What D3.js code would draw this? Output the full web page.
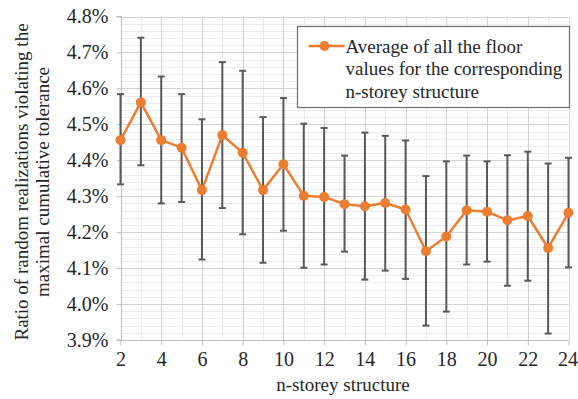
<!doctype html>
<html lang="en">
<head>
  <meta charset="utf-8">
  <title>n-storey structure</title>
  <script src="https://cdn.jsdelivr.net/npm/d3@7"></script>
  <style>
    body { margin: 0; background: #fff; }
    svg { display: block; font-family: "Liberation Serif", "Times New Roman", serif; }
    .grid-minor line { stroke: #ececec; stroke-width: 1px; }
    .grid-major line { stroke: #d4d4d4; stroke-width: 1px; }
    .axis path, .axis line { stroke: #bfbfbf; }
  </style>
</head>
<body>
<div id="chart"></div>
<script>
  // values (percent)
  var storeys = [2, 3, 4, 5, 6, 7, 8, 9, 10, 11, 12, 13, 14, 15, 16, 17, 18, 19, 20, 21, 22, 23, 24];
  var average = [4.456, 4.561, 4.456, 4.435, 4.317, 4.470, 4.421, 4.317, 4.389, 4.301, 4.298, 4.278, 4.272, 4.281, 4.263, 4.147, 4.188, 4.261, 4.257, 4.233, 4.245, 4.156, 4.254];
  var upper = [4.584, 4.741, 4.633, 4.584, 4.514, 4.673, 4.649, 4.520, 4.573, 4.502, 4.490, 4.413, 4.477, 4.468, 4.455, 4.356, 4.397, 4.413, 4.397, 4.414, 4.424, 4.391, 4.407];
  var lower = [4.333, 4.386, 4.280, 4.284, 4.124, 4.267, 4.194, 4.115, 4.204, 4.101, 4.110, 4.146, 4.068, 4.093, 4.070, 3.940, 3.979, 4.110, 4.118, 4.051, 4.065, 3.918, 4.102];
  var yTicks = [3.9, 4.0, 4.1, 4.2, 4.3, 4.4, 4.5, 4.6, 4.7, 4.8];
  var xTicks = [2, 4, 6, 8, 10, 12, 14, 16, 18, 20, 22, 24];
  var legendLines = ["Average of all the floor", "values for the corresponding", "n-storey structure"];

  var data = storeys.map(function(s, i) {
    return {x: s, y: average[i], hi: upper[i], lo: lower[i]};
  });

  var width = 578, height = 399,
      orange = "#ed7d31", barColor = "#595959";

  var svg = d3.select("#chart").append("svg")
      .attr("width", width)
      .attr("height", height);

  var x = d3.scaleLinear().domain([2, 24]).range([120.5, 568.5]);
  var y = d3.scaleLinear().domain([3.9, 4.8]).range([340, 16.5]);

  // minor grid
  var minorY = d3.range(0, 46).map(function(i) { return +(3.9 + i * 0.02).toFixed(2); });
  svg.append("g").attr("class", "grid-minor")
    .selectAll("line").data(minorY).enter().append("line")
      .attr("x1", x(2)).attr("x2", x(24))
      .attr("y1", function(d) { return Math.round(y(d)) + 0.5; })
      .attr("y2", function(d) { return Math.round(y(d)) + 0.5; });
  svg.select(".grid-minor")
    .selectAll("line.v").data(storeys.filter(function(d) { return d % 2; })).enter().append("line")
      .attr("class", "v")
      .attr("y1", y(3.9)).attr("y2", y(4.8))
      .attr("x1", function(d) { return Math.round(x(d)) + 0.5; })
      .attr("x2", function(d) { return Math.round(x(d)) + 0.5; });

  // major grid
  var major = svg.append("g").attr("class", "grid-major");
  major.selectAll("line.h").data(yTicks.slice(1)).enter().append("line")
      .attr("class", "h")
      .attr("x1", x(2)).attr("x2", x(24))
      .attr("y1", function(d) { return Math.round(y(d)) + 0.5; })
      .attr("y2", function(d) { return Math.round(y(d)) + 0.5; });
  major.selectAll("line.v").data(xTicks.slice(1)).enter().append("line")
      .attr("class", "v")
      .attr("y1", y(3.9)).attr("y2", y(4.8))
      .attr("x1", function(d) { return Math.round(x(d)) + 0.5; })
      .attr("x2", function(d) { return Math.round(x(d)) + 0.5; });

  // axes
  var yAxis = svg.append("g").attr("class", "axis")
      .attr("transform", "translate(" + (Math.round(x(2)) + 0.5) + ",0)")
      .call(d3.axisLeft(y).tickValues(yTicks).tickSize(5).tickPadding(8)
        .tickFormat(function(d) { return d.toFixed(1) + "%"; }));
  yAxis.select(".domain").attr("d", "M-5," + y(4.8) + "H0V" + y(3.9) + "H-5");

  var xAxis = svg.append("g").attr("class", "axis")
      .attr("transform", "translate(0," + (Math.round(y(3.9)) + 0.5) + ")")
      .call(d3.axisBottom(x).tickValues(xTicks).tickSize(5).tickPadding(6)
        .tickFormat(d3.format("d")));
  xAxis.select(".domain").attr("d", "M" + x(2) + ",0H" + x(24));
  xAxis.selectAll(".tick text").filter(function(d) { return d === 24; }).attr("dx", -1);

  svg.selectAll(".axis").attr("font-family", null).attr("font-size", null);
  svg.selectAll(".axis .tick text")
      .style("font-family", "Liberation Serif")
      .style("font-size", "20px")
      .attr("fill", "#262626");

  // error bars
  var bars = svg.append("g").attr("stroke", barColor).attr("stroke-width", 2);
  bars.selectAll("line.bar").data(data).enter().append("line")
      .attr("class", "bar")
      .attr("x1", function(d) { return x(d.x); })
      .attr("x2", function(d) { return x(d.x); })
      .attr("y1", function(d) { return y(d.hi); })
      .attr("y2", function(d) { return y(d.lo); });
  ["hi", "lo"].forEach(function(k) {
    bars.selectAll("line.cap-" + k).data(data).enter().append("line")
        .attr("class", "cap-" + k)
        .attr("x1", function(d) { return x(d.x) - 3.5; })
        .attr("x2", function(d) { return x(d.x) + 3.5; })
        .attr("y1", function(d) { return y(d[k]); })
        .attr("y2", function(d) { return y(d[k]); });
  });

  // series
  var line = d3.line()
      .x(function(d) { return x(d.x); })
      .y(function(d) { return y(d.y); });
  svg.append("path").datum(data)
      .attr("d", line)
      .attr("fill", "none")
      .attr("stroke", orange)
      .attr("stroke-width", 2.5)
      .attr("stroke-linejoin", "round");
  svg.append("g").selectAll("circle").data(data).enter().append("circle")
      .attr("cx", function(d) { return x(d.x); })
      .attr("cy", function(d) { return y(d.y); })
      .attr("r", 5)
      .attr("fill", orange);

  // legend
  var legend = svg.append("g").attr("transform", "translate(297.5,26.5)");
  legend.append("rect")
      .attr("width", 272).attr("height", 81)
      .attr("fill", "#fff").attr("stroke", "#6e6e6e").attr("stroke-width", 1.2);
  legend.append("line")
      .attr("x1", 11).attr("x2", 47).attr("y1", 19.5).attr("y2", 19.5)
      .attr("stroke", orange).attr("stroke-width", 2.5);
  legend.append("circle").attr("cx", 27).attr("cy", 19.5).attr("r", 5).attr("fill", orange);
  legend.selectAll("text").data(legendLines).enter().append("text")
      .attr("x", 48)
      .attr("y", function(d, i) { return 26 + i * 22.5; })
      .attr("font-size", 19)
      .attr("fill", "#262626")
      .text(function(d) { return d; });

  // titles
  svg.append("text")
      .attr("x", 343).attr("y", 391)
      .attr("text-anchor", "middle")
      .attr("font-size", 19)
      .attr("fill", "#262626")
      .text("n-storey structure");
  var yTitle = svg.append("text")
      .attr("transform", "translate(0,182) rotate(-90)")
      .attr("text-anchor", "middle")
      .attr("font-size", 19)
      .attr("fill", "#262626");
  yTitle.append("tspan").attr("x", 0).attr("y", 28).text("Ratio of random realizations violating the");
  yTitle.append("tspan").attr("x", 0).attr("y", 49).text("maximal cumulative tolerance");
</script>
</body>
</html>
